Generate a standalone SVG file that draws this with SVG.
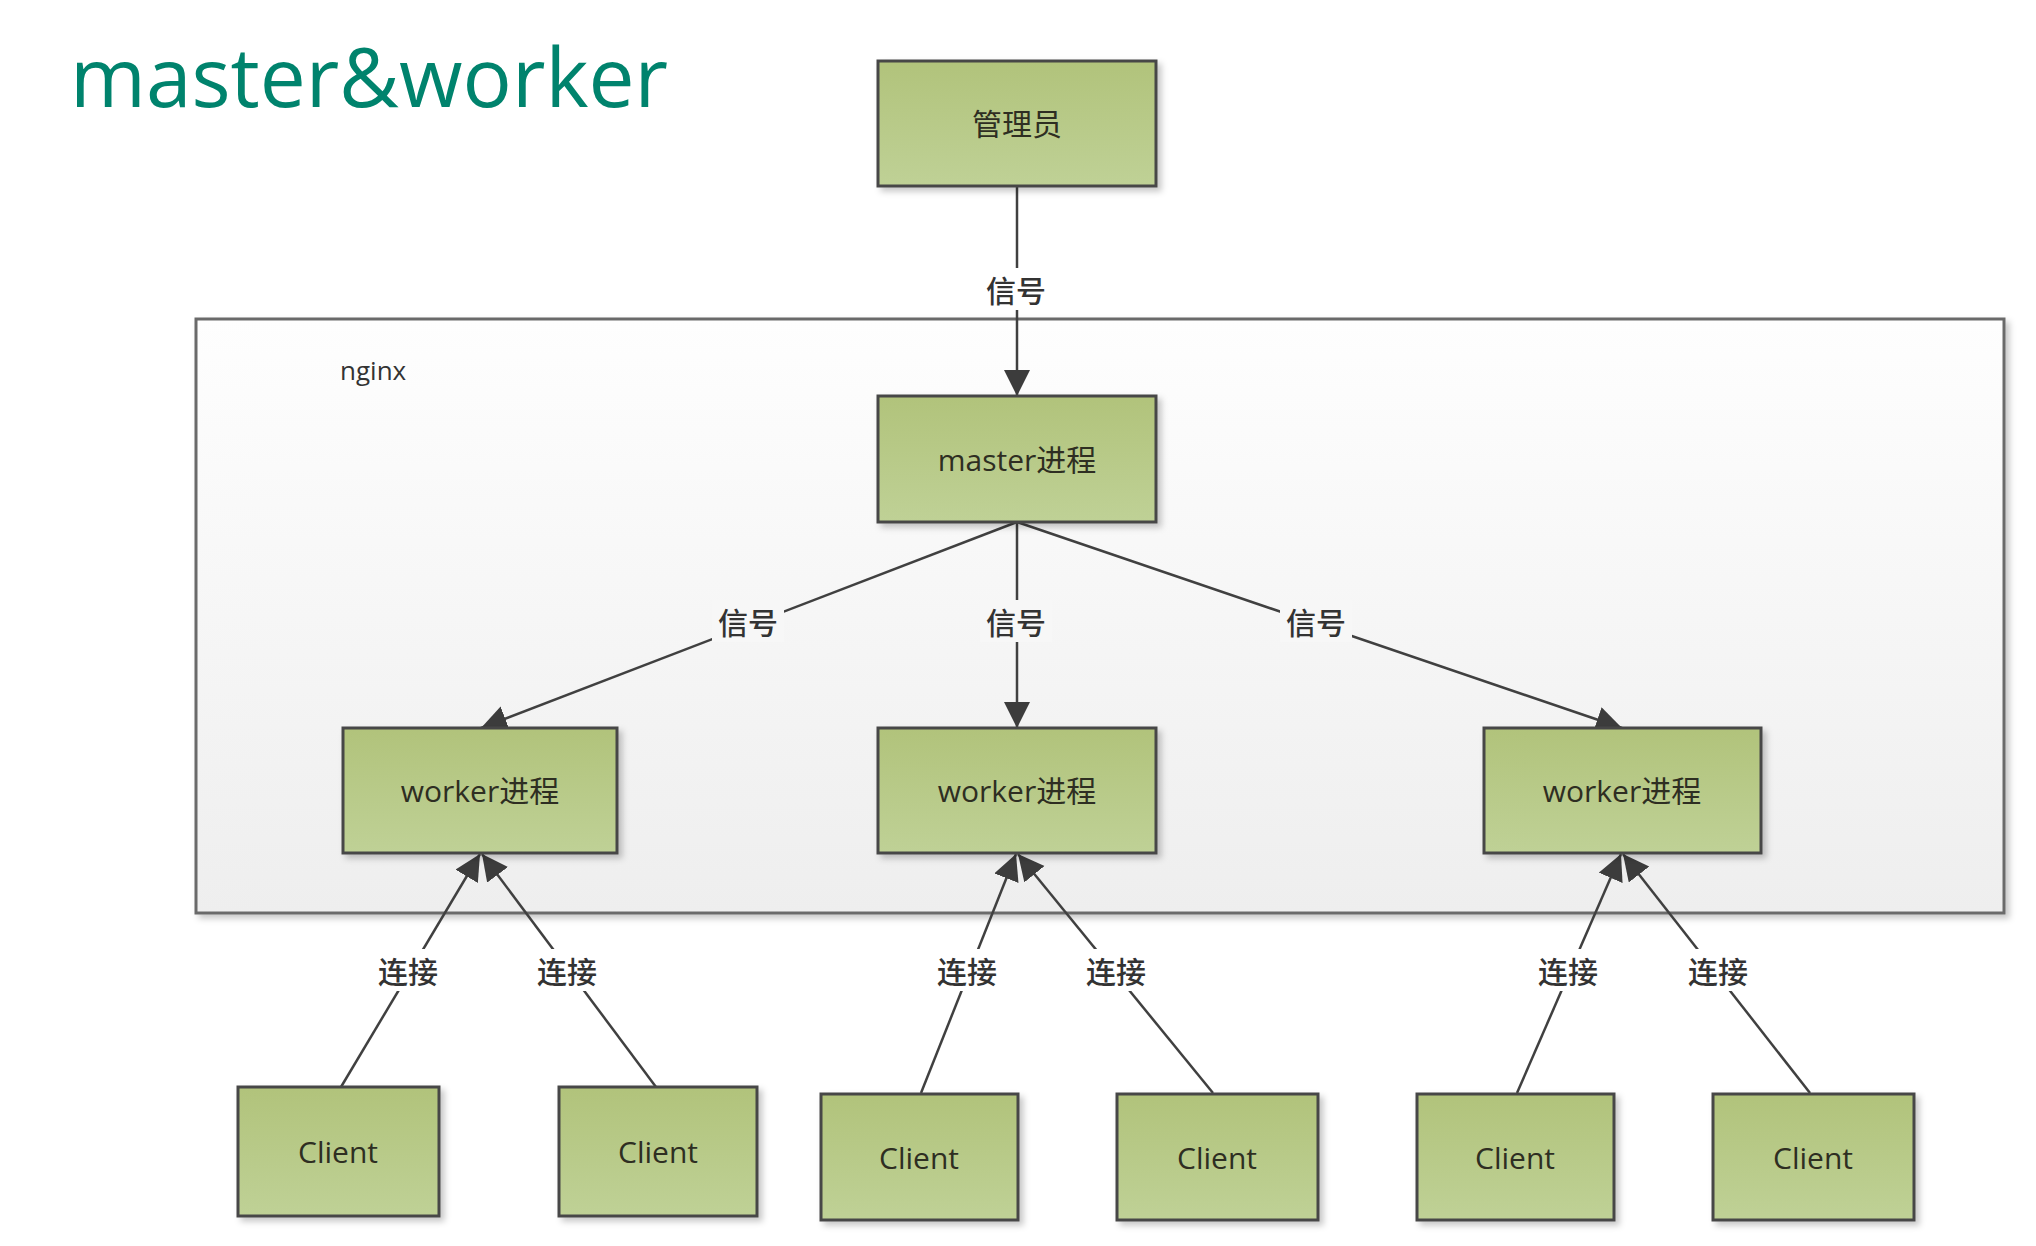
<svg xmlns="http://www.w3.org/2000/svg" width="2036" height="1246" viewBox="0 0 2036 1246">
  <defs>
    <linearGradient id="boxFill" x1="0" y1="0" x2="0" y2="1">
      <stop offset="0" stop-color="#b1c37b"/>
      <stop offset="1" stop-color="#bfd196"/>
    </linearGradient>
    <linearGradient id="nginxFill" x1="0" y1="0" x2="0" y2="1">
      <stop offset="0" stop-color="#fefefe"/>
      <stop offset="1" stop-color="#eeeeee"/>
    </linearGradient>
    <filter id="shadow" x="-10%" y="-10%" width="130%" height="130%">
      <feDropShadow dx="4" dy="4" stdDeviation="3" flood-color="#000" flood-opacity="0.22"/>
    </filter>
    <marker id="arrow" markerUnits="userSpaceOnUse" markerWidth="28" markerHeight="28" refX="26" refY="13" orient="auto">
      <path d="M0,0 L26,13 L0,26 Z" fill="#3c3c3c"/>
    </marker>
  </defs>
  <style>
    .box { fill: url(#boxFill); stroke: #474747; stroke-width: 3; filter: url(#shadow); }
    .btext { font-family: "Open Sans", "Noto Sans CJK SC", sans-serif; font-size: 30px; fill: #2e2e22; text-anchor: middle; dominant-baseline: central; }
    .edge { stroke: #404040; stroke-width: 2.5; fill: none; marker-end: url(#arrow); }
    .lbl { font-family: "Noto Sans CJK SC", "Open Sans", sans-serif; font-size: 30px; fill: #333; text-anchor: middle; dominant-baseline: central; font-weight: 500; }
    .lblbg { fill: #ffffff; }
  </style>
  <rect width="2036" height="1246" fill="#ffffff"/>

  <text x="70" y="107" font-family="Open Sans, sans-serif" font-size="82" fill="#00836d">master&amp;worker</text>

  <g id="nginx">
    <rect x="196" y="319" width="1808" height="594" fill="url(#nginxFill)" stroke="#6a6a6a" stroke-width="3" filter="url(#shadow)"/>
    <text x="340" y="380" font-family="Open Sans, sans-serif" font-size="26" fill="#333">nginx</text>
  </g>

  <g id="connectors">
    <line class="edge" x1="1017" y1="186" x2="1017" y2="396"/>
    <line class="edge" x1="1017" y1="522" x2="481" y2="728"/>
    <line class="edge" x1="1017" y1="522" x2="1017" y2="728"/>
    <line class="edge" x1="1017" y1="522" x2="1622" y2="728"/>
    <line class="edge" x1="341" y1="1087" x2="480" y2="854"/>
    <line class="edge" x1="656" y1="1087" x2="482" y2="854"/>
    <line class="edge" x1="921" y1="1093" x2="1016" y2="854"/>
    <line class="edge" x1="1213" y1="1093" x2="1018" y2="854"/>
    <line class="edge" x1="1517" y1="1093" x2="1621" y2="854"/>
    <line class="edge" x1="1810" y1="1093" x2="1623" y2="854"/>

    <rect class="lblbg" x="980" y="268" width="72" height="42"/>
    <text class="lbl" x="1016" y="289">信号</text>
    <rect class="lblbg" x="712" y="600" width="72" height="42" fill="#f8f8f8" style="fill:#f7f7f7"/>
    <text class="lbl" x="748" y="621">信号</text>
    <rect class="lblbg" x="980" y="600" width="72" height="42" style="fill:#f7f7f7"/>
    <text class="lbl" x="1016" y="621">信号</text>
    <rect class="lblbg" x="1280" y="600" width="72" height="42" style="fill:#f7f7f7"/>
    <text class="lbl" x="1316" y="621">信号</text>

    <rect class="lblbg" x="372" y="949" width="72" height="42"/>
    <text class="lbl" x="408" y="970">连接</text>
    <rect class="lblbg" x="531" y="949" width="72" height="42"/>
    <text class="lbl" x="567" y="970">连接</text>
    <rect class="lblbg" x="931" y="949" width="72" height="42"/>
    <text class="lbl" x="967" y="970">连接</text>
    <rect class="lblbg" x="1080" y="949" width="72" height="42"/>
    <text class="lbl" x="1116" y="970">连接</text>
    <rect class="lblbg" x="1532" y="949" width="72" height="42"/>
    <text class="lbl" x="1568" y="970">连接</text>
    <rect class="lblbg" x="1682" y="949" width="72" height="42"/>
    <text class="lbl" x="1718" y="970">连接</text>
  </g>

  <g id="admin">
    <rect class="box" x="878" y="61" width="278" height="125"/>
    <text class="btext" x="1017" y="123">管理员</text>
  </g>
  <g id="master">
    <rect class="box" x="878" y="396" width="278" height="126"/>
    <text class="btext" x="1017" y="459">master进程</text>
  </g>
  <g id="worker1">
    <rect class="box" x="343" y="728" width="274" height="125"/>
    <text class="btext" x="480" y="790">worker进程</text>
  </g>
  <g id="worker2">
    <rect class="box" x="878" y="728" width="278" height="125"/>
    <text class="btext" x="1017" y="790">worker进程</text>
  </g>
  <g id="worker3">
    <rect class="box" x="1484" y="728" width="277" height="125"/>
    <text class="btext" x="1622" y="790">worker进程</text>
  </g>
  <g id="client1">
    <rect class="box" x="238" y="1087" width="201" height="129"/>
    <text class="btext" x="338" y="1151">Client</text>
  </g>
  <g id="client2">
    <rect class="box" x="559" y="1087" width="198" height="129"/>
    <text class="btext" x="658" y="1151">Client</text>
  </g>
  <g id="client3">
    <rect class="box" x="821" y="1094" width="197" height="126"/>
    <text class="btext" x="919" y="1157">Client</text>
  </g>
  <g id="client4">
    <rect class="box" x="1117" y="1094" width="201" height="126"/>
    <text class="btext" x="1217" y="1157">Client</text>
  </g>
  <g id="client5">
    <rect class="box" x="1417" y="1094" width="197" height="126"/>
    <text class="btext" x="1515" y="1157">Client</text>
  </g>
  <g id="client6">
    <rect class="box" x="1713" y="1094" width="201" height="126"/>
    <text class="btext" x="1813" y="1157">Client</text>
  </g>
</svg>
